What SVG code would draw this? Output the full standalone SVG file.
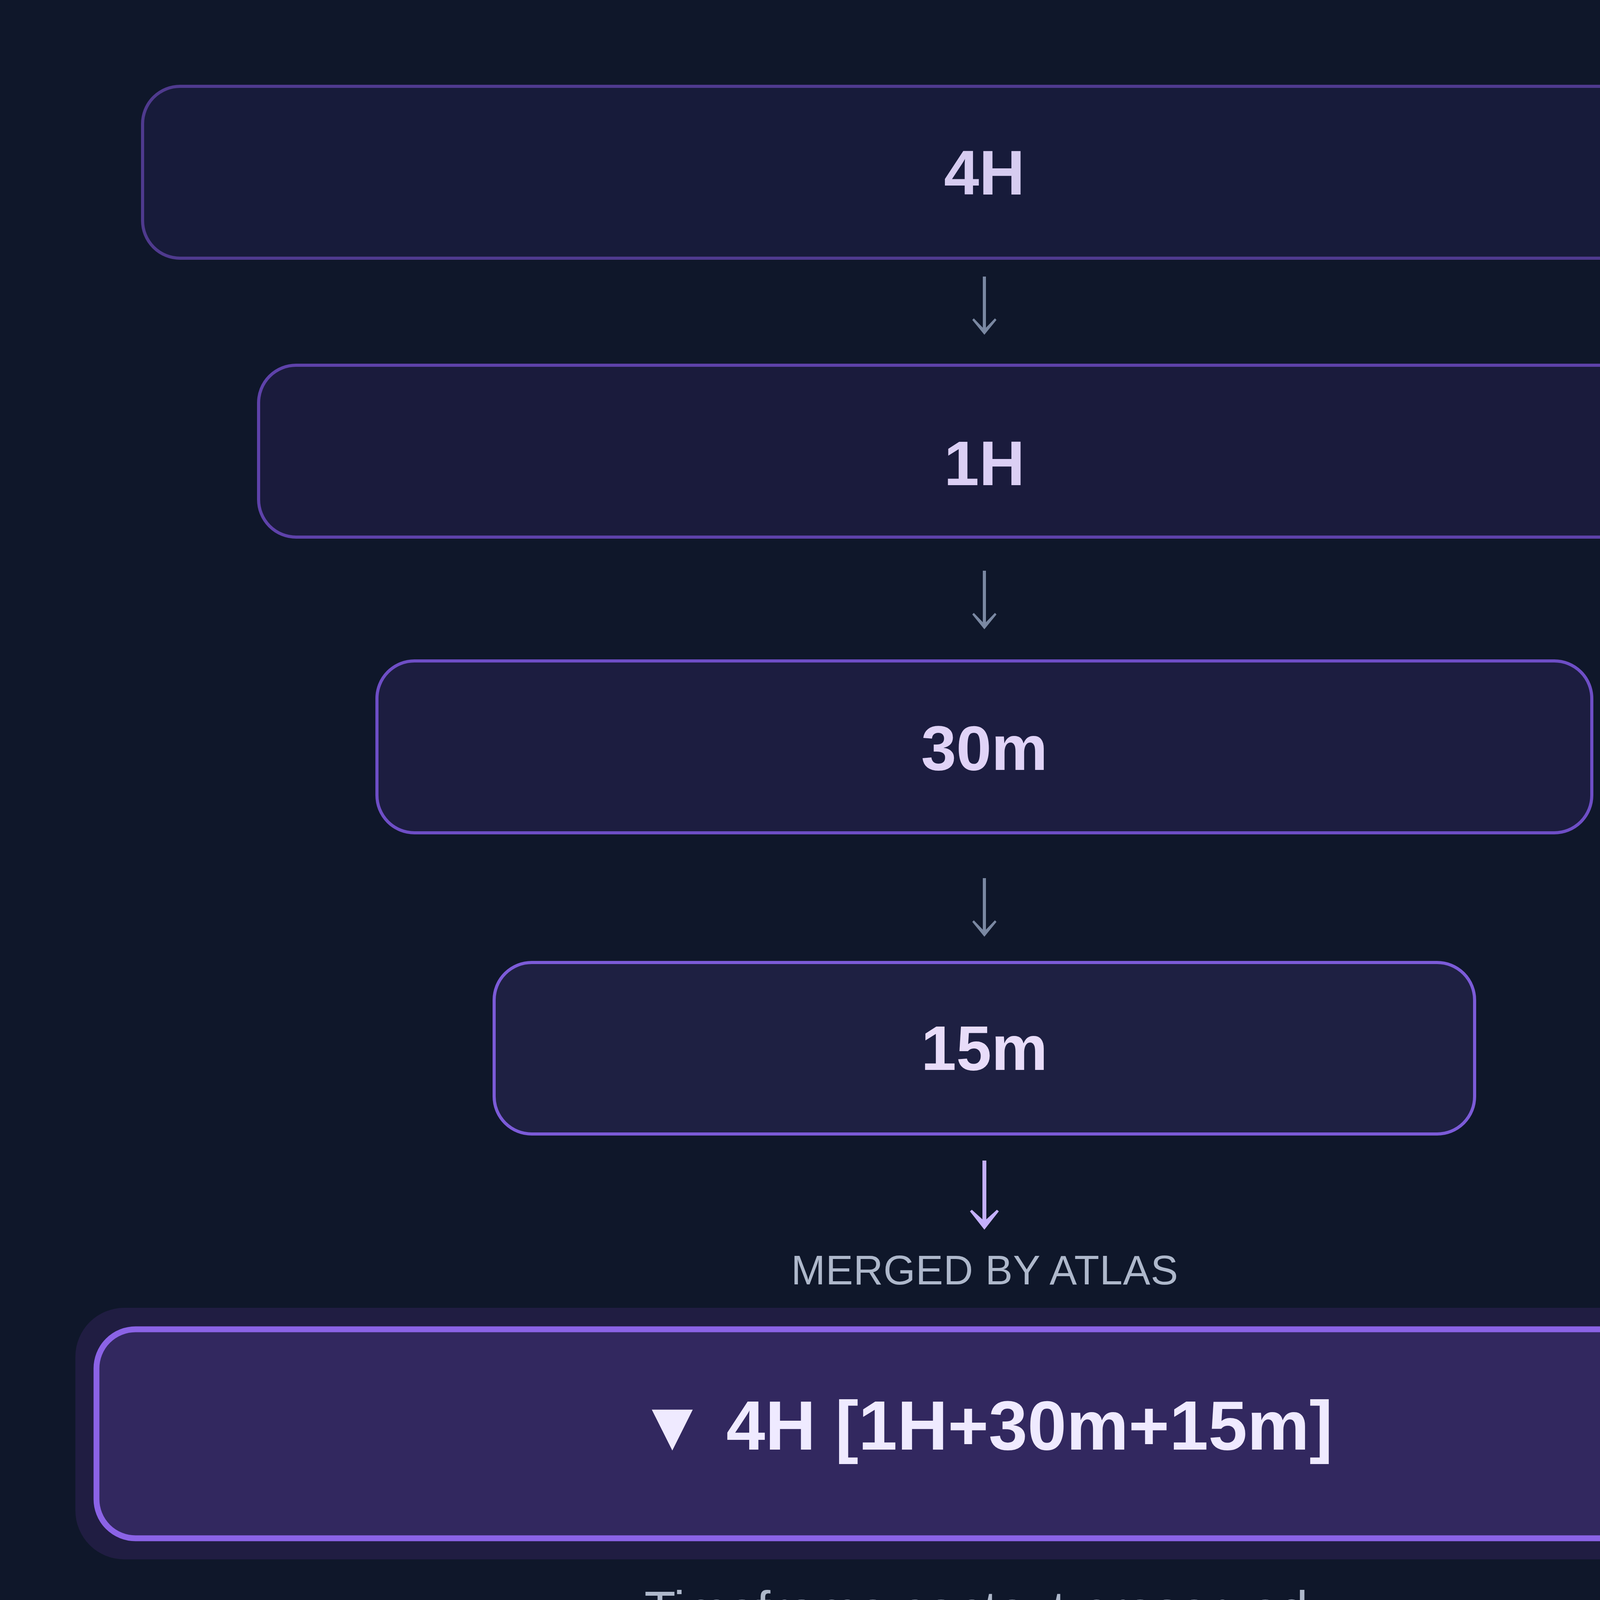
<svg xmlns="http://www.w3.org/2000/svg" width="5040" height="4416" viewBox="0 0 5040 4416">
<style>
.lbl{font-family:"Liberation Sans",Arial,sans-serif;font-weight:bold;font-size:162px;text-anchor:middle}
.sub{font-family:"Liberation Sans",Arial,sans-serif;text-anchor:middle;fill:#aeb8cb}
.gl{stroke:#7a88a2;stroke-width:8;fill:none}
.gh{fill:#7a88a2}
</style>
<rect x="0" y="0" width="5040" height="4416" fill="#0f172a"/>
<g id="node-4h">
<rect x="365" y="221" width="4310" height="440" rx="96" fill="#171b3a" stroke="#4f3a8e" stroke-width="8"/>
<text class="lbl" x="2520" y="498" fill="#d6ccf0">4H</text>
</g>
<g id="node-1h">
<rect x="662" y="935" width="3716" height="440" rx="96" fill="#1a1b3c" stroke="#5e42aa" stroke-width="8"/>
<text class="lbl" x="2520" y="1242" fill="#dbcff4">1H</text>
</g>
<g id="node-30m">
<rect x="965" y="1692" width="3110" height="440" rx="96" fill="#1c1d40" stroke="#6e4ec6" stroke-width="8"/>
<text class="lbl" x="2520" y="1971" fill="#e0d3f7">30m</text>
</g>
<g id="node-15m">
<rect x="1265" y="2464" width="2510" height="439" rx="96" fill="#1e2042" stroke="#7c5bd8" stroke-width="8"/>
<text class="lbl" x="2520" y="2739" fill="#e8dcf9">15m</text>
</g>
<g id="connectors">
<line class="gl" x1="2520" y1="708" x2="2520" y2="850"/>
<polygon class="gh" points="2520,857 2489,819 2493,815 2520,843 2547,815 2551,819"/>
<line class="gl" x1="2520" y1="1461" x2="2520" y2="1604"/>
<polygon class="gh" points="2520,1611 2489,1573 2493,1569 2520,1597 2547,1569 2551,1573"/>
<line class="gl" x1="2520" y1="2248" x2="2520" y2="2391"/>
<polygon class="gh" points="2520,2398 2489,2360 2493,2356 2520,2384 2547,2356 2551,2360"/>
<line x1="2520" y1="2971" x2="2520" y2="3138" stroke="#c4b0fc" stroke-width="10"/>
<polygon fill="#c4b0fc" points="2520,3148 2483,3101 2488,3097 2520,3126 2552,3097 2557,3101"/>
</g>
<g id="label-merged">
<text class="sub" x="2521" y="3288" font-size="105" letter-spacing="1">MERGED BY ATLAS</text>
</g>
<g id="node-merged">
<rect x="193" y="3348" width="4654" height="644" rx="125" fill="#201d42"/>
<rect x="247" y="3403" width="4546" height="535" rx="100" fill="#32285f" stroke="#8b63e6" stroke-width="15"/>
<text x="2522" y="3711" font-family="Liberation Sans, DejaVu Sans, sans-serif" font-weight="bold" font-size="179" text-anchor="middle" fill="#efeaff">▼ 4H [1H+30m+15m]</text>
</g>
<g id="caption">
<text class="sub" x="2517" y="4166" font-size="131">Timeframe context preserved.</text>
</g>
</svg>
